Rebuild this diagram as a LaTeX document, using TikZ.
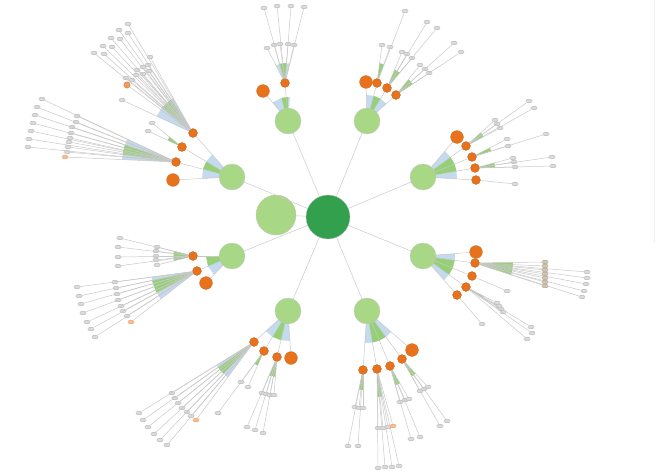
\documentclass[tikz,border=0pt]{standalone}
\usepackage{tikz}
\usepackage{xcolor}
\usetikzlibrary{calc,backgrounds}
\definecolor{rootcolor}{RGB}{50,160,76}
\definecolor{midcolor}{RGB}{168,216,134}
\definecolor{hubcolor}{RGB}{232,114,28}
\definecolor{fangreen}{RGB}{150,208,118}
\definecolor{fanblue}{RGB}{196,218,238}
\definecolor{edgecolor}{RGB}{200,200,200}
\definecolor{tancolor}{RGB}{170,150,125}

% leaves of one hub: name-1, name-2, ...
\newcommand{\leafset}[2]{%
  \foreach \x/\y [count=\i] in {#2} {
    \node[leaf] (#1-\i) at (\x,\y) {};
    \draw[edge] (#1) -- (#1-\i);
  }}
% wedge from a node towards a list of nodes
\newcommand{\fan}[4]{%
  \fill[#1] (#2.center) foreach \t in {#4} { -- ($(#2.center)!#3!(\t.center)$) } -- cycle;}

\begin{document}
\begin{tikzpicture}[
    x=0.5mm, y=-0.5mm,
    edge/.style={draw=edgecolor, line width=0.7pt},
    leaf/.style={rectangle, rounded corners=0.7mm, draw=gray!70, fill=gray!28, line width=0.3pt, minimum width=3.1mm, minimum height=1.8mm, inner sep=0pt},
    leafo/.style={leaf, fill=hubcolor!45, draw=hubcolor!75},
    leaft/.style={leaf, fill=tancolor!55, draw=tancolor},
    root/.style={circle, draw=gray!45, fill=rootcolor, minimum size=22mm, inner sep=0pt},
    side/.style={circle, draw=gray!50, fill=midcolor, minimum size=20mm, inner sep=0pt},
    mid/.style={circle, draw=gray!50, fill=midcolor, minimum size=13mm, inner sep=0pt},
    hub/.style={circle, draw=hubcolor!80!black, fill=hubcolor, minimum size=4.5mm, inner sep=0pt, line width=0.3pt},
    hubbig/.style={hub, minimum size=6.4mm},
    dot/.style={hub, minimum size=3.2mm, fill=hubcolor!70}
]
\useasboundingbox (0,0) rectangle (657,471);

% Center
\node[root] (root) at (328,217) {};
\node[side] (side) at (276,215) {};
\draw[edge] (side) -- (root);

% Ring of mid circles
\foreach \n/\x/\y in {m1/288/121, m2/367/121, m3/232/177, m4/423/177,
                      m5/232/256, m6/423/256, m7/288/311, m8/367/311} {
  \node[mid] (\n) at (\x,\y) {};
  \draw[edge] (root) -- (\n);
}

% Orange hubs
\foreach \n/\p/\x/\y/\s in {
    m1a/m1/285/83/hub, m1b/m1/263/91/hubbig,
    m2a/m2/366/82/hubbig, m2b/m2/377/83/hub, m2c/m2/387/88/hub, m2d/m2/396/95/hub,
    m3a/m3/173/180/hubbig, m3b/m3/176/162/hub, m3c/m3/182/147/hub, m3d/m3/193/133/hub,
    m4a/m4/457/137/hubbig, m4b/m4/466/146/hub, m4c/m4/472/157/hub, m4d/m4/475/168/hub, m4e/m4/476/180/hub,
    m5a/m5/193/256/hub, m5b/m5/197/271/hub, m5c/m5/206/283/hubbig,
    m6a/m6/476/252/hubbig, m6b/m6/475/263/hub, m6c/m6/472/276/hub, m6d/m6/466/287/hub, m6e/m6/457/295/hub,
    m7a/m7/291/358/hubbig, m7b/m7/277/357/hub, m7c/m7/264/351/hub, m7d/m7/254/342/hub,
    m8a/m8/412/350/hubbig, m8b/m8/402/359/hub, m8c/m8/390/366/hub, m8d/m8/377/369/hub, m8e/m8/363/370/hub} {
  \node[\s] (\n) at (\x,\y) {};
  \draw[edge] (\p) -- (\n);
}

% Leaves, top
\leafset{m1a}{267/48, 274/45, 280/44, 288/44, 294/45, 264/8, 277/6, 291/6, 304/7}
\leafset{m2b}{382/45, 390/47, 405/11}
\leafset{m2c}{402/52, 407/54, 412/58, 427/22, 437/28}
\leafset{m2d}{420/65, 425/69, 429/73, 454/43, 461/52}

% Leaves, right
\leafset{m4b}{495/120, 497/124, 500/128, 529/101, 534/108}
\leafset{m4c}{507/139, 508/146, 546/134}
\leafset{m4d}{513/158, 514/162, 515/167, 552/157, 553/166}
\leafset{m4e}{515/184}
\leafset{m6b}{587/272, 587/278, 586/284, 584/291, 582/297}
\foreach \y [count=\i] in {262,266,270,274,278,282,286} {
  \node[leaft] (m6b-n\i) at (545,\y) {};
  \draw[edge] (m6b) -- (m6b-n\i);
}
\leafset{m6c}{507/291}
\leafset{m6d}{497/303, 499/306, 501/309, 503/312, 531/327, 532/333, 527/339}
\leafset{m6e}{482/324}

% Leaves, bottom
\leafset{m8b}{420/391, 424/389, 428/387, 440/426, 447/421}
\leafset{m8c}{400/402, 405/400, 409/399, 411/439, 420/437}
\leafset{m8d}{378/428, 383/428, 388/427, 378/468, 385/467, 392/467, 399/466}
\node[leafo] (m8d-x) at (393,426) {};
\draw[edge] (m8d) -- (m8d-x);
\leafset{m8e}{355/407, 359/408, 363/408, 348/446, 358/446}
\leafset{m7b}{262/393, 266/394, 270/395, 274/395, 247/427, 255/430, 263/433}
\leafset{m7c}{241/382, 248/387, 218/413}
\leafset{m7d}{172/393, 175/398, 178/403, 182/408, 187/412, 191/416, 139/413, 143/420, 148/427, 154/434, 160/440, 167/445}
\node[leafo] (m7d-x) at (196,420) {};
\draw[edge] (m7d) -- (m7d-x);

% Leaves, left
\leafset{m5a}{157/247, 156/251, 156/256, 156/260, 157/265, 120/238, 118/247, 118/257, 118/266}
\leafset{m5b}{115/282, 116/288, 117/294, 118/300, 121/306, 123/311, 127/316, 77/287, 79/296, 81/304, 83/313, 87/322, 91/329, 95/337}
\node[leafo] (m5b-x) at (131,322) {};
\draw[edge] (m5b) -- (m5b-x);
\leafset{m3b}{77/116, 76/122, 72/127, 71/133, 70/138, 69/142, 68/147, 67/152, 42/99, 37/107, 35/115, 33/123, 31/131, 29/139, 28/147}
\node[leafo] (m3b-x) at (65,157) {};
\draw[edge] (m3b) -- (m3b-x);
\leafset{m3c}{148/131, 152/123}
\leafset{m3d}{122/100, 126/78, 132/80, 136/75, 137/70, 143/74, 143/67, 149/71, 148/65, 150/57, 94/53, 104/54, 103/46, 112/47, 111/38, 120/39, 119/30, 128/33, 128/24}
\node[dot] (m3d-x) at (127,85) {};
\draw[edge] (m3d) -- (m3d-x);

% Wedges behind everything
\begin{scope}[on background layer]
\fan{fanblue}{m1}{12mm}{m1b,m1a-1,m1a-5}
\fan{fangreen}{m1}{12mm}{m1a-1,m1a-4}
\fan{fanblue}{m1a}{10mm}{m1a-1,m1a-3,m1a-5}
\fan{fangreen}{m1a}{10mm}{m1a-2,m1a-4}

\fan{fanblue}{m2}{13mm}{m2a,m2b,m2c,m2d}
\fan{fangreen}{m2}{13mm}{m2b,m2c}
\fan{fangreen}{m2b}{10mm}{m2b-1,m2b-2}
\fan{fangreen}{m2c}{10mm}{m2c-1,m2c-3}
\fan{fangreen}{m2d}{10mm}{m2d-1,m2d-3}

\fan{fanblue}{m4}{17mm}{m4a,m4b,m4c,m4d,m4e}
\fan{fangreen}{m4}{17mm}{m4b,m4c,m4d}
\fan{fangreen}{m4b}{10mm}{m4b-1,m4b-3}
\fan{fangreen}{m4c}{10mm}{m4c-1,m4c-2}
\fan{fangreen}{m4d}{10mm}{m4d-1,m4d-3}

\fan{fanblue}{m6}{16mm}{m6a,m6b,m6c,m6d,m6e}
\fan{fangreen}{m6}{16mm}{m6b,m6c,m6d}
\fan{fangreen}{m6b}{19mm}{m6b-n1,m6b-n4,m6b-n7}
\fan{fangreen}{m6d}{10mm}{m6d-1,m6d-4}

\fan{fanblue}{m8}{16mm}{m8a,m8b,m8c,m8d,m8e}
\fan{fangreen}{m8}{16mm}{m8b,m8c,m8d}
\fan{fangreen}{m8b}{10mm}{m8b-1,m8b-3}
\fan{fangreen}{m8c}{10mm}{m8c-1,m8c-3}
\fan{fangreen}{m8d}{14mm}{m8d-1,m8d-3}
\fan{fangreen}{m8e}{10mm}{m8e-1,m8e-3}

\fan{fanblue}{m7}{15mm}{m7a,m7b,m7c,m7d}
\fan{fangreen}{m7}{15mm}{m7b,m7c}
\fan{fangreen}{m7b}{10mm}{m7b-1,m7b-4}
\fan{fangreen}{m7c}{8mm}{m7c-1,m7c-2}
\fan{fanblue}{m7d}{22mm}{m7d-7,m7d-9,m7d-x}
\fan{fangreen}{m7d}{22mm}{m7d-2,m7d-5}

\fan{fanblue}{m5}{13mm}{m5a,m5b,m5c}
\fan{fangreen}{m5}{13mm}{m5a,m5b}
\fan{fangreen}{m5a}{10mm}{m5a-1,m5a-5}
\fan{fanblue}{m5b}{23mm}{m5b-8,m5b-11,m5b-x}
\fan{fangreen}{m5b}{23mm}{m5b-2,m5b-6}

\fan{fanblue}{m3}{15mm}{m3a,m3b,m3c,m3d}
\fan{fangreen}{m3}{15mm}{m3b,m3c}
\fan{fanblue}{m3b}{27mm}{m3b-9,m3b-12,m3b-x}
\fan{fangreen}{m3b}{27mm}{m3b-3,m3b-7}
\fan{fangreen}{m3c}{8mm}{m3c-1,m3c-2}
\fan{fanblue}{m3d}{20mm}{m3d-1,m3d-11,m3d-10}
\fan{fangreen}{m3d}{20mm}{m3d-2,m3d-9}

% faint frame edge on the right
\draw[gray!12, line width=1pt] (654,0) -- (654,243);
\end{scope}

\end{tikzpicture}
\end{document}
